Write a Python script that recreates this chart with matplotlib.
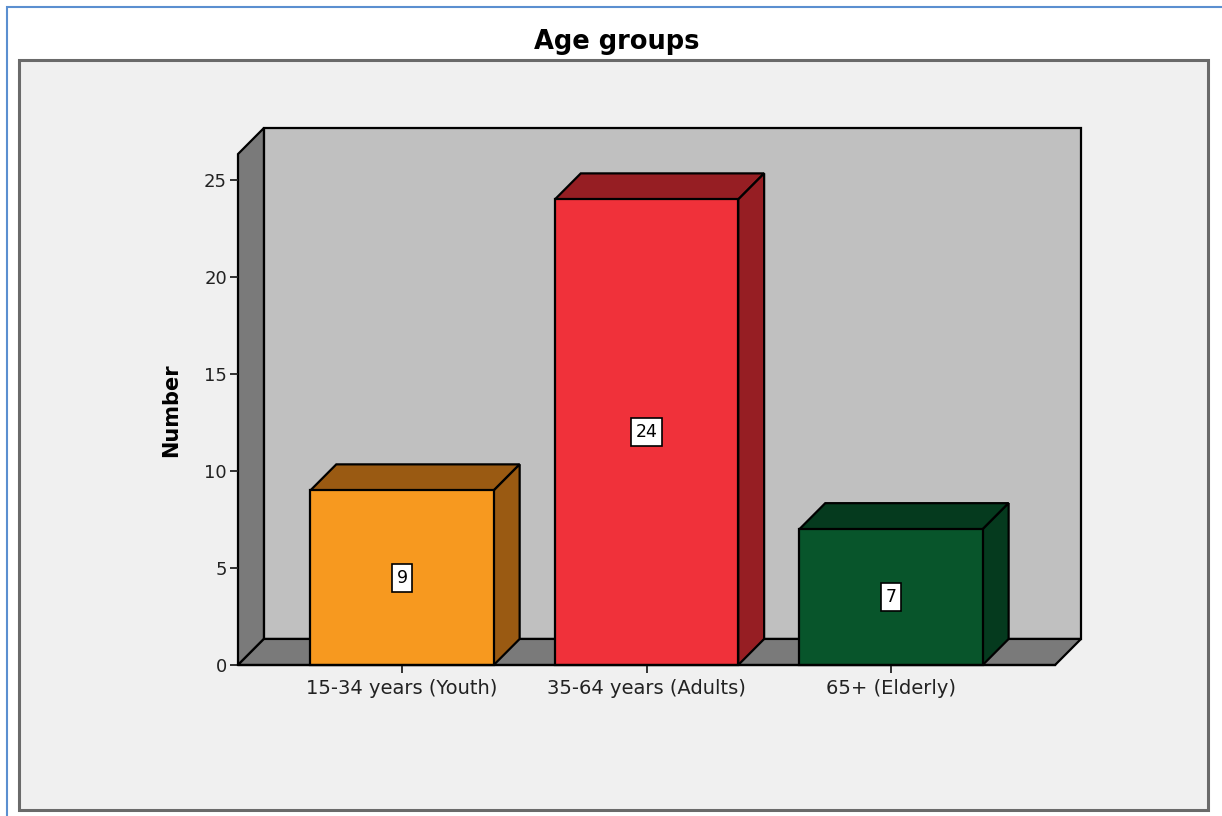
"""
SPSS-style 3D bar chart of age groups, drawn with plain matplotlib patches.
"""
import matplotlib
matplotlib.use('Agg')
import matplotlib.pyplot as plt
from matplotlib.patches import Polygon, Rectangle

# --- data ---
categories = ['15-34 years (Youth)', '35-64 years (Adults)', '65+ (Elderly)']
counts = [9, 24, 7]
front_colors = ['#f7991f', '#f0313a', '#08552b']
shade_colors = ['#9a5a12', '#961e23', '#053a1e']
y_ticks = [0, 5, 10, 15, 20, 25]

# --- geometry (category units / value units) ---
bar_w = 0.75
x_lo, x_hi = -0.671, 2.671     # front floor edge
y_top = 26.34                  # front top of left wall
dx, dy = 0.106, 1.343          # depth offset of the 3D box

fig = plt.figure(figsize=(12.22, 8.16), dpi=100)
fig.patch.set_facecolor('white')

# outer blue frame and grey chart area (behind the axes)
fig.add_artist(Rectangle((7 / 1222, -0.1), 1.2, 1 - 7 / 816 + 0.1, transform=fig.transFigure,
                         fill=False, edgecolor='#5b8fd0', lw=1.5, zorder=-2))
fig.add_artist(Rectangle((19 / 1222, 6 / 816), (1208 - 19) / 1222, (810 - 60) / 816,
                         transform=fig.transFigure, facecolor='#f0f0f0',
                         edgecolor='#6a6a6a', lw=2.2, zorder=-1))

ax = fig.add_axes([238 / 1222, 151 / 816, (1081 - 238) / 1222, (665 - 128) / 816])
ax.set_xlim(x_lo, x_hi + dx)
ax.set_ylim(0, y_top + dy)
ax.patch.set_visible(False)
for s in ax.spines.values():
    s.set_visible(False)

edge = dict(edgecolor='black', lw=1.6, joinstyle='miter', clip_on=False)

# back wall, left wall, floor
ax.add_patch(Polygon([(x_lo + dx, dy), (x_hi + dx, dy), (x_hi + dx, y_top + dy), (x_lo + dx, y_top + dy)],
                     facecolor='#c0c0c0', **edge))
ax.add_patch(Polygon([(x_lo, 0), (x_lo + dx, dy), (x_lo + dx, y_top + dy), (x_lo, y_top)],
                     facecolor='#7a7a7a', **edge))
ax.add_patch(Polygon([(x_lo, 0), (x_hi, 0), (x_hi + dx, dy), (x_lo + dx, dy)],
                     facecolor='#7a7a7a', **edge))

# bars
for i, (v, fc, sc) in enumerate(zip(counts, front_colors, shade_colors)):
    l, r = i - bar_w / 2, i + bar_w / 2
    ax.add_patch(Polygon([(l, v), (r, v), (r + dx, v + dy), (l + dx, v + dy)], facecolor=sc, **edge))
    ax.add_patch(Polygon([(r, 0), (r + dx, dy), (r + dx, v + dy), (r, v)], facecolor=sc, **edge))
    ax.add_patch(Polygon([(l, 0), (r, 0), (r, v), (l, v)], facecolor=fc, **edge))
    ax.text(i, v / 2, str(v), ha='center', va='center', fontsize=12.5, family='DejaVu Sans',
            bbox=dict(boxstyle='square,pad=0.28', facecolor='white', edgecolor='black', lw=1.2))

ax.plot([x_lo, x_hi], [0, 0], color='black', lw=1.6, clip_on=False)

ax.set_yticks(y_ticks)
ax.set_yticklabels([str(t) for t in y_ticks], fontsize=13, color='#222222')
ax.set_xticks(range(len(categories)))
ax.set_xticklabels(categories, fontsize=14, color='#222222')
ax.tick_params(axis='both', direction='out', length=6, width=1.3, color='#222222')
ax.tick_params(axis='x', pad=4)
ax.tick_params(axis='y', pad=2)
ax.set_ylabel('Number', fontsize=15, fontweight='bold')
ax.yaxis.set_label_coords(-0.0676, 0.475)

fig.text(617 / 1222, 1 - 42 / 816, 'Age groups', ha='center', va='center',
         fontsize=18.5, fontweight='bold')

plt.savefig('out.png', dpi=100)
